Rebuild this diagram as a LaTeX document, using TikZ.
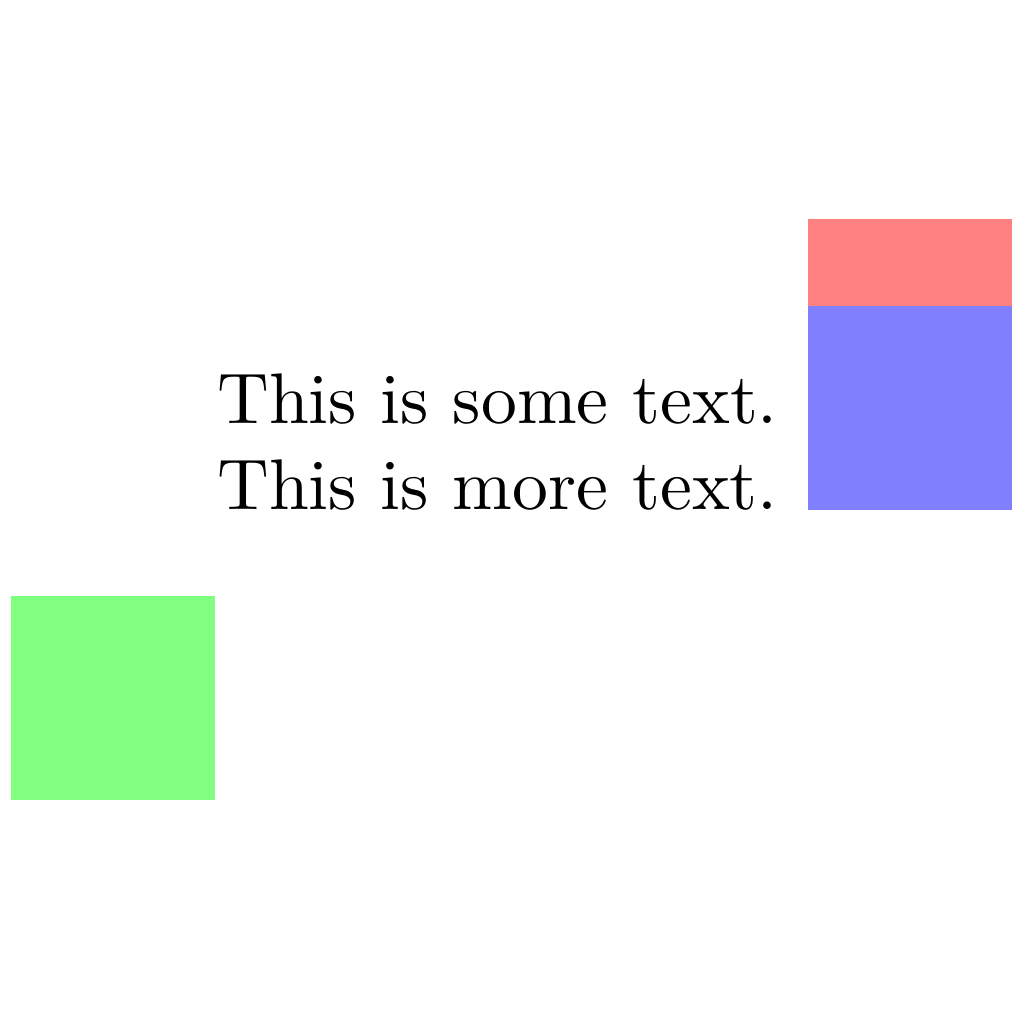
\documentclass[tikz,border=0pt]{standalone}
\usepackage{tikz}
\usetikzlibrary{positioning}
\tikzset{
  sq/.style={minimum size=1cm, inner sep=0pt, outer sep=0pt},
  txt/.style={inner sep=0pt, anchor=base west},
}
\begin{document}
\begin{tikzpicture}
    \useasboundingbox (0,0) rectangle (5.02,-5.02);
    \node[txt] (some) at (1.058,-2.075) {This is some text.};
    \node[txt] (more) at ([yshift=-12pt]some.base west) {This is more text.};
    \node[sq, fill=red!50, anchor=south west] (red) at (3.961,-2.072) {};
    \node[sq, fill=blue!50, anchor=south west] (blue) at (3.961,-2.5) {};
    \node[sq, fill=green!50, anchor=north east] (green) at (1.054,-2.922) {};
  \end{tikzpicture}
\end{document}
